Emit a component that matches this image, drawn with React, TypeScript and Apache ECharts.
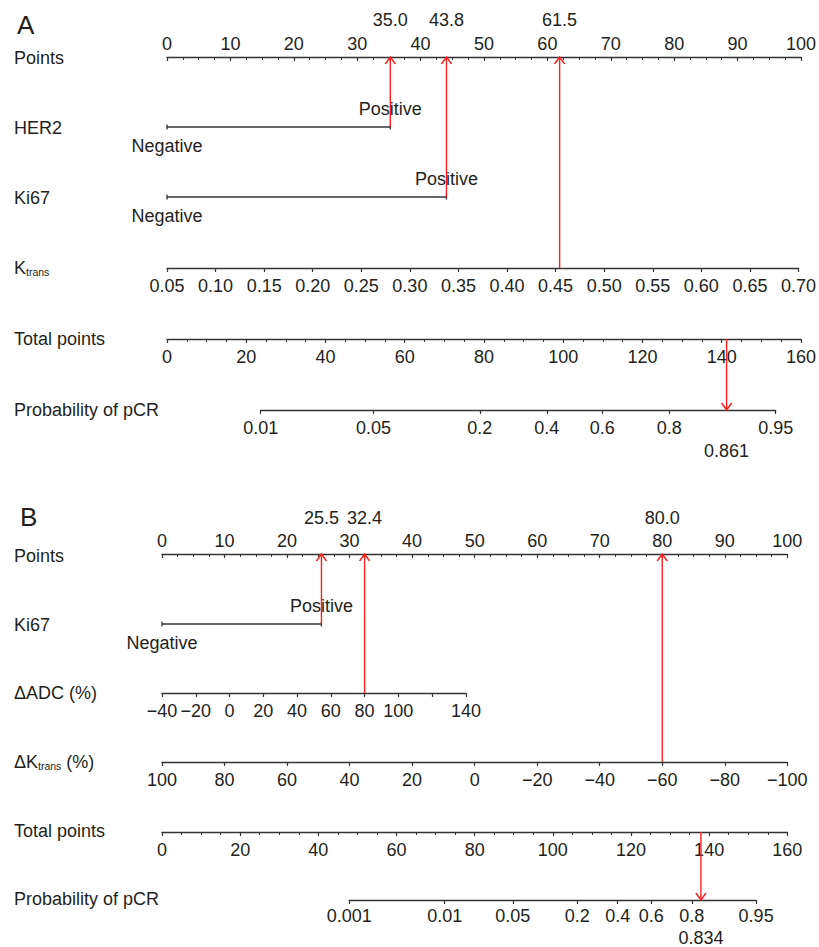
import React, { useEffect, useRef } from 'react';
import * as echarts from 'echarts';

// ---------------- Panel A data ----------------
const A_HER2_LEVELS = ['Negative', 'Positive'];
const A_HER2_POINTS = [0, 35.0];
const A_KI67_LEVELS = ['Negative', 'Positive'];
const A_KI67_POINTS = [0, 43.8];
const A_KTRANS_TICKS = [0.05, 0.1, 0.15, 0.2, 0.25, 0.3, 0.35, 0.4, 0.45, 0.5, 0.55, 0.6, 0.65, 0.7];
const A_KTRANS_POINTS_RANGE = [0, 100]; // 0.05 -> 0 points, 0.70 -> 100 points
const A_TOTAL_MAX = 160;
const A_PROB_TICKS = [0.01, 0.05, 0.2, 0.4, 0.6, 0.8, 0.95];
const A_PROB_TICK_LABELS = ['0.01', '0.05', '0.2', '0.4', '0.6', '0.8', '0.95'];
const A_PROB_INTERCEPT = 102.2; // total points at logit = 0
const A_PROB_SLOPE = 17.13; // total points per logit unit
const A_CASE_HER2 = 'Positive';
const A_CASE_KI67 = 'Positive';
const A_CASE_KTRANS = 0.45;
const A_CASE_PROB = 0.861;

// ---------------- Panel B data ----------------
const B_KI67_LEVELS = ['Negative', 'Positive'];
const B_KI67_POINTS = [0, 25.5];
const B_ADC_TICKS = [-40, -20, 0, 20, 40, 60, 80, 100, 120, 140];
const B_ADC_TICK_LABELS = [-40, -20, 0, 20, 40, 60, 80, 100, 140];
const B_ADC_POINTS_RANGE = [0, 48.6]; // -40 -> 0 points, 140 -> 48.6 points
const B_DKTRANS_TICKS = [100, 80, 60, 40, 20, 0, -20, -40, -60, -80, -100];
const B_DKTRANS_POINTS_RANGE = [0, 100]; // 100 -> 0 points, -100 -> 100 points
const B_TOTAL_MAX = 160;
const B_PROB_TICKS = [0.001, 0.01, 0.05, 0.2, 0.4, 0.6, 0.8, 0.95];
const B_PROB_TICK_LABELS = ['0.001', '0.01', '0.05', '0.2', '0.4', '0.6', '0.8', '0.95'];
const B_PROB_INTERCEPT = 120.9;
const B_PROB_SLOPE = 10.57;
const B_CASE_KI67 = 'Positive';
const B_CASE_ADC = 80;
const B_CASE_DKTRANS = -60;
const B_CASE_PROB = 0.834;

// ---------------- styling / layout ----------------
const W = 819;
const H = 947;
const FONT = '"Liberation Sans", Arial, Helvetica, sans-serif';
const FS = 18;
const TEXT = '#231f20';
const AXIS = '#333333';
const RED = '#ff1f1f';

const LAY_A = { x0: 167, x1: 805, pts: 57, r1: 127, r2: 197, r3: 268, tot: 339, prob: 410, probMargin: 9, valY: 20, probValY: 451, letterX: 17, letterY: 24.5 };
const LAY_B = { x0: 162, x1: 787.3, pts: 554, r1: 624, r2: 693, r3: 762, tot: 832, prob: 900, probMargin: 7, valY: 517.5, probValY: 937.5, letterX: 20, letterY: 517 };

const minusFmt = (v: number) => (v < 0 ? '\u2212' + Math.abs(v) : String(v));
const logit = (p: number) => Math.log(p / (1 - p));

function buildOption() {
  const grid: any[] = [];
  const xAxis: any[] = [];
  const yAxis: any[] = [];
  const series: any[] = [];
  const graphic: any[] = [];

  const labelStyle = { color: TEXT, fontSize: FS, fontFamily: FONT };
  const axisLine = { show: true, lineStyle: { color: AXIS, width: 1.3 } };
  const tick = { show: true, length: 4, lineStyle: { color: AXIS, width: 1.2 } };

  const addGrid = (left: number, width: number, top: number, height: number, xa: any, ya?: any) => {
    const i = grid.length;
    grid.push({ left, top, width, height });
    xAxis.push({ gridIndex: i, type: 'value', splitLine: { show: false }, ...xa });
    yAxis.push({ gridIndex: i, type: 'value', show: false, min: 0, max: 1, ...(ya || {}) });
    return i;
  };

  const rowLabel = (x: number, y: number, text: string, rich?: any, fontSize = FS) => {
    graphic.push({
      type: 'text',
      x,
      y,
      silent: true,
      style: { text, fill: TEXT, fontSize, fontFamily: FONT, verticalAlign: 'middle', rich },
    });
  };
  const subRich = { s: { fontSize: 10.5, fontFamily: FONT, fill: TEXT, verticalAlign: 'bottom', padding: [6, 0, 0, 0] } };

  const pointsAxis = (L: any) =>
    addGrid(L.x0, L.x1 - L.x0, L.pts, 0, {
      position: 'top',
      min: 0,
      max: 100,
      interval: 10,
      axisLine,
      axisTick: { ...tick, inside: true },
      minorTick: { show: true, splitNumber: 4, length: 3, lineStyle: { color: AXIS, width: 1 } },
      axisLabel: { ...labelStyle, margin: 4 },
    });

  const totalAxis = (L: any, max: number) =>
    addGrid(L.x0, L.x1 - L.x0, L.tot, 0, {
      min: 0,
      max,
      interval: 20,
      axisLine,
      axisTick: tick,
      minorTick: { show: true, splitNumber: 4, length: 3, lineStyle: { color: AXIS, width: 1 } },
      axisLabel: { ...labelStyle, margin: 9 },
    });

  const probAxis = (L: any, ticks: number[], labels: string[], icpt: number, slope: number, max: number) => {
    const w = L.x1 - L.x0;
    const totToX = (t: number) => L.x0 + (w * t) / max;
    const lv = ticks.map(logit);
    const pl = totToX(icpt + slope * lv[0]);
    const pr = totToX(icpt + slope * lv[lv.length - 1]);
    addGrid(pl, pr - pl, L.prob, 0, {
      min: lv[0],
      max: lv[lv.length - 1],
      axisLine,
      axisTick: { ...tick, customValues: lv },
      axisLabel: {
        ...labelStyle,
        margin: L.probMargin,
        customValues: lv,
        formatter: (v: number) => {
          let best = 0;
          lv.forEach((t, i) => {
            if (Math.abs(t - v) < Math.abs(lv[best] - v)) best = i;
          });
          return labels[best];
        },
      },
    });
  };

  const overlay = (L: any) =>
    addGrid(L.x0, L.x1 - L.x0, 0, H, { show: false, min: 0, max: 100 }, { min: 0, max: H, inverse: true });

  const textScatterBase = {
    type: 'scatter',
    symbolSize: 1,
    itemStyle: { color: 'rgba(255,255,255,0)', opacity: 1 },
    silent: true,
    label: { show: true, position: 'inside', formatter: '{b}', ...labelStyle, textBorderWidth: 0, opacity: 1 },
  };

  const catRow = (ov: number, y: number, levels: string[], points: number[]) => {
    series.push({
      type: 'line',
      xAxisIndex: ov,
      yAxisIndex: ov,
      data: points.map((p) => [p, y]),
      symbol: 'rect',
      symbolSize: [1.3, 5],
      showSymbol: true,
      itemStyle: { color: AXIS },
      lineStyle: { color: AXIS, width: 1.3 },
      silent: true,
      z: 2,
    });
    series.push({
      ...textScatterBase,
      xAxisIndex: ov,
      yAxisIndex: ov,
      z: 3,
      data: points.map((p, i) => ({
        value: [p, y],
        name: levels[i],
        label: { offset: [0, i === 0 ? 19 : -18.5] },
      })),
    });
  };

  const arrows = (ov: number, L: any, items: { x: number; yTo: number }[], total: number, totMax: number, prob: number) => {
    items.forEach((it) => {
      series.push({
        type: 'line',
        xAxisIndex: ov,
        yAxisIndex: ov,
        data: [[it.x, L.pts], [it.x, it.yTo]],
        symbol: 'none',
        lineStyle: { color: RED, width: 1.4 },
        silent: true,
        z: 5,
      });
    });
    const tx = (total / totMax) * 100;
    series.push({
      type: 'line',
      xAxisIndex: ov,
      yAxisIndex: ov,
      data: [[tx, L.tot], [tx, L.prob]],
      symbol: 'none',
      lineStyle: { color: RED, width: 1.4 },
      silent: true,
      z: 5,
    });
    series.push({
      type: 'scatter',
      xAxisIndex: ov,
      yAxisIndex: ov,
      symbol: 'path://M0,10L5,0L10,10',
      symbolSize: [10, 7],
      itemStyle: { color: 'rgba(0,0,0,0)', borderColor: RED, borderWidth: 1.4, opacity: 1 },
      silent: true,
      z: 6,
      data: [
        ...items.map((it) => ({ value: [it.x, L.pts], symbolRotate: 0, symbolOffset: [0, 3.5] })),
        { value: [tx, L.prob], symbolRotate: 180, symbolOffset: [0, -3.5] },
      ],
    });
    series.push({
      ...textScatterBase,
      xAxisIndex: ov,
      yAxisIndex: ov,
      z: 6,
      data: [
        ...items.map((it) => ({ value: [it.x, L.valY], name: it.x.toFixed(1) })),
        { value: [tx, L.probValY], name: prob.toFixed(3) },
      ],
    });
  };

  // ================= Panel A =================
  {
    const L = LAY_A;
    const ov = overlay(L);
    pointsAxis(L);
    const kScale = (v: number) =>
      A_KTRANS_POINTS_RANGE[0] +
      ((v - A_KTRANS_TICKS[0]) / (A_KTRANS_TICKS[A_KTRANS_TICKS.length - 1] - A_KTRANS_TICKS[0])) *
        (A_KTRANS_POINTS_RANGE[1] - A_KTRANS_POINTS_RANGE[0]);
    const w = L.x1 - L.x0;
    const kl = L.x0 + (w * kScale(A_KTRANS_TICKS[0])) / 100;
    const kr = L.x0 + (w * kScale(A_KTRANS_TICKS[A_KTRANS_TICKS.length - 1])) / 100;
    addGrid(kl, kr - kl, L.r3, 0, {
      min: A_KTRANS_TICKS[0],
      max: A_KTRANS_TICKS[A_KTRANS_TICKS.length - 1],
      axisLine,
      axisTick: { ...tick, customValues: A_KTRANS_TICKS },
      axisLabel: { ...labelStyle, margin: 9, customValues: A_KTRANS_TICKS, formatter: (v: number) => v.toFixed(2) },
    });
    totalAxis(L, A_TOTAL_MAX);
    probAxis(L, A_PROB_TICKS, A_PROB_TICK_LABELS, A_PROB_INTERCEPT, A_PROB_SLOPE, A_TOTAL_MAX);

    catRow(ov, L.r1, A_HER2_LEVELS, A_HER2_POINTS);
    catRow(ov, L.r2, A_KI67_LEVELS, A_KI67_POINTS);

    const pHer2 = A_HER2_POINTS[A_HER2_LEVELS.indexOf(A_CASE_HER2)];
    const pKi67 = A_KI67_POINTS[A_KI67_LEVELS.indexOf(A_CASE_KI67)];
    const pK = kScale(A_CASE_KTRANS);
    arrows(
      ov,
      L,
      [
        { x: pHer2, yTo: L.r1 },
        { x: pKi67, yTo: L.r2 },
        { x: pK, yTo: L.r3 },
      ],
      pHer2 + pKi67 + pK,
      A_TOTAL_MAX,
      A_CASE_PROB
    );

    rowLabel(L.letterX, L.letterY, 'A', undefined, 26);
    rowLabel(14, L.pts + 1, 'Points');
    rowLabel(14, L.r1 + 0.5, 'HER2');
    rowLabel(14, L.r2 + 0.5, 'Ki67');
    rowLabel(14, L.r3, 'K{s|trans}', subRich);
    rowLabel(14, L.tot, 'Total points');
    rowLabel(14, L.prob, 'Probability of pCR');
  }

  // ================= Panel B =================
  {
    const L = LAY_B;
    const ov = overlay(L);
    pointsAxis(L);
    const w = L.x1 - L.x0;
    const adcScale = (v: number) =>
      B_ADC_POINTS_RANGE[0] +
      ((v - B_ADC_TICKS[0]) / (B_ADC_TICKS[B_ADC_TICKS.length - 1] - B_ADC_TICKS[0])) *
        (B_ADC_POINTS_RANGE[1] - B_ADC_POINTS_RANGE[0]);
    const al = L.x0 + (w * adcScale(B_ADC_TICKS[0])) / 100;
    const ar = L.x0 + (w * adcScale(B_ADC_TICKS[B_ADC_TICKS.length - 1])) / 100;
    addGrid(al, ar - al, L.r2, 0, {
      min: B_ADC_TICKS[0],
      max: B_ADC_TICKS[B_ADC_TICKS.length - 1],
      axisLine,
      axisTick: { ...tick, customValues: B_ADC_TICKS },
      axisLabel: { ...labelStyle, margin: 9, customValues: B_ADC_TICK_LABELS, formatter: minusFmt },
    });
    const dkFirst = B_DKTRANS_TICKS[0];
    const dkLast = B_DKTRANS_TICKS[B_DKTRANS_TICKS.length - 1];
    const dkScale = (v: number) =>
      B_DKTRANS_POINTS_RANGE[0] +
      ((v - dkFirst) / (dkLast - dkFirst)) * (B_DKTRANS_POINTS_RANGE[1] - B_DKTRANS_POINTS_RANGE[0]);
    const dl = L.x0 + (w * dkScale(dkFirst)) / 100;
    const dr = L.x0 + (w * dkScale(dkLast)) / 100;
    addGrid(dl, dr - dl, L.r3, 0, {
      min: Math.min(dkFirst, dkLast),
      max: Math.max(dkFirst, dkLast),
      inverse: dkFirst > dkLast,
      axisLine,
      axisTick: { ...tick, customValues: B_DKTRANS_TICKS },
      axisLabel: { ...labelStyle, margin: 9, customValues: B_DKTRANS_TICKS, formatter: minusFmt },
    });
    totalAxis(L, B_TOTAL_MAX);
    probAxis(L, B_PROB_TICKS, B_PROB_TICK_LABELS, B_PROB_INTERCEPT, B_PROB_SLOPE, B_TOTAL_MAX);

    catRow(ov, L.r1, B_KI67_LEVELS, B_KI67_POINTS);

    const pKi67 = B_KI67_POINTS[B_KI67_LEVELS.indexOf(B_CASE_KI67)];
    const pAdc = adcScale(B_CASE_ADC);
    const pDk = dkScale(B_CASE_DKTRANS);
    arrows(
      ov,
      L,
      [
        { x: pKi67, yTo: L.r1 },
        { x: pAdc, yTo: L.r2 },
        { x: pDk, yTo: L.r3 },
      ],
      pKi67 + pAdc + pDk,
      B_TOTAL_MAX,
      B_CASE_PROB
    );

    rowLabel(L.letterX, L.letterY, 'B', undefined, 26);
    rowLabel(14, L.pts + 1.5, 'Points');
    rowLabel(14, L.r1 + 1, 'Ki67');
    rowLabel(14, L.r2, '\u0394ADC (%)');
    rowLabel(14, L.r3, '\u0394K{s|trans} (%)', subRich);
    rowLabel(14, L.tot - 1, 'Total points');
    rowLabel(14, L.prob - 1, 'Probability of pCR');
  }

  return {
    animation: false,
    backgroundColor: '#ffffff',
    textStyle: { fontFamily: FONT },
    grid,
    xAxis,
    yAxis,
    series,
    graphic: { elements: graphic },
  };
}

export default function App() {
  const ref = useRef<HTMLDivElement>(null);
  useEffect(() => {
    if (!ref.current) return;
    const chart = echarts.init(ref.current, undefined, { renderer: 'svg' });
    chart.setOption(buildOption() as any);
    return () => chart.dispose();
  }, []);
  return (
    <div
      ref={ref}
      style={{ position: 'absolute', left: 0, top: 0, width: W, height: H, background: '#fff' }}
    />
  );
}
